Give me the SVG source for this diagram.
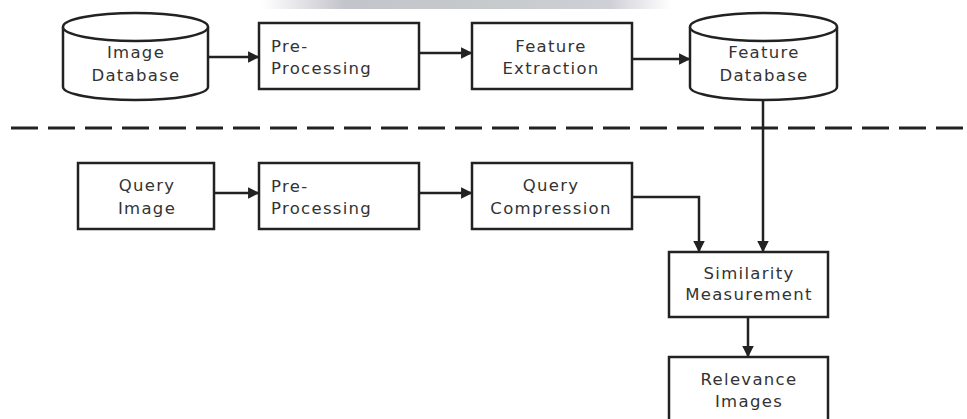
<svg xmlns="http://www.w3.org/2000/svg" width="967" height="419" viewBox="0 0 967 419">
<style>
.box{fill:#fff;stroke:#222;stroke-width:2.5}
.lbl{font-family:"DejaVu Sans",Verdana,sans-serif;font-size:16.5px;letter-spacing:1.3px;fill:#333}
.c{text-anchor:middle}
.con{fill:none;stroke:#222;stroke-width:2.5}
</style>
<defs>
<marker id="ah" viewBox="0 0 10 10" refX="9.5" refY="5" markerWidth="4.6" markerHeight="4.6" markerUnits="strokeWidth" orient="auto">
<path d="M0,0 L10,5 L0,10 Z" fill="#222"/>
</marker>
<linearGradient id="band" x1="0" x2="1" y1="0" y2="0">
<stop offset="0" stop-color="#c4c4cc" stop-opacity="0"/>
<stop offset="0.2" stop-color="#c4c4cc" stop-opacity="1"/>
<stop offset="0.55" stop-color="#c6cacb" stop-opacity="1"/>
<stop offset="0.85" stop-color="#cacad2" stop-opacity="0.9"/>
<stop offset="1" stop-color="#d0d0d8" stop-opacity="0"/>
</linearGradient>
</defs>
<rect x="262" y="0" width="410" height="9" fill="url(#band)"/>
<line x1="11" y1="128" x2="967" y2="128" stroke="#222" stroke-width="3" stroke-dasharray="27 10"/>
<g id="image-database">
<path class="box" d="M63,27 L63,87 A72.5,13 0 0 0 208,87 L208,27"/>
<ellipse class="box" cx="135.5" cy="27" rx="72.5" ry="14"/>
<text class="lbl c" x="136" y="58">Image</text>
<text class="lbl c" x="136" y="81">Database</text>
</g>
<g id="pre-processing-1">
<rect class="box" x="259" y="23" width="160" height="66"/>
<text class="lbl" x="271" y="52">Pre-</text>
<text class="lbl" x="271" y="74">Processing</text>
</g>
<g id="feature-extraction">
<rect class="box" x="472" y="23" width="160" height="66"/>
<text class="lbl c" x="551" y="52">Feature</text>
<text class="lbl c" x="551" y="74">Extraction</text>
</g>
<g id="feature-database">
<path class="box" d="M690,27 L690,87 A73.5,13 0 0 0 837,87 L837,27"/>
<ellipse class="box" cx="763.5" cy="27" rx="73.5" ry="14"/>
<text class="lbl c" x="764" y="58">Feature</text>
<text class="lbl c" x="764" y="81">Database</text>
</g>
<g id="query-image">
<rect class="box" x="78" y="163" width="136" height="66"/>
<text class="lbl c" x="147" y="191">Query</text>
<text class="lbl c" x="147" y="214">Image</text>
</g>
<g id="pre-processing-2">
<rect class="box" x="259" y="163" width="160" height="66"/>
<text class="lbl" x="271" y="192">Pre-</text>
<text class="lbl" x="271" y="214">Processing</text>
</g>
<g id="query-compression">
<rect class="box" x="472" y="163" width="160" height="66"/>
<text class="lbl c" x="551" y="191">Query</text>
<text class="lbl c" x="551" y="214">Compression</text>
</g>
<g id="similarity-measurement">
<rect class="box" x="669" y="252" width="159" height="65"/>
<text class="lbl c" x="749" y="279">Similarity</text>
<text class="lbl c" x="749" y="300">Measurement</text>
</g>
<g id="relevance-images">
<rect class="box" x="669" y="357" width="159" height="70"/>
<text class="lbl c" x="749" y="385">Relevance</text>
<text class="lbl c" x="749" y="407">Images</text>
</g>
<g id="connectors">
<line class="con" x1="208" y1="57" x2="259" y2="57" marker-end="url(#ah)"/>
<line class="con" x1="419" y1="53" x2="472" y2="53" marker-end="url(#ah)"/>
<line class="con" x1="632" y1="59" x2="690" y2="59" marker-end="url(#ah)"/>
<line class="con" x1="763" y1="100" x2="763" y2="252" marker-end="url(#ah)"/>
<line class="con" x1="214" y1="193" x2="259" y2="193" marker-end="url(#ah)"/>
<line class="con" x1="419" y1="193" x2="472" y2="193" marker-end="url(#ah)"/>
<polyline class="con" points="632,197 699,197 699,252" marker-end="url(#ah)"/>
<line class="con" x1="748" y1="317" x2="748" y2="357" marker-end="url(#ah)"/>
</g>
</svg>
